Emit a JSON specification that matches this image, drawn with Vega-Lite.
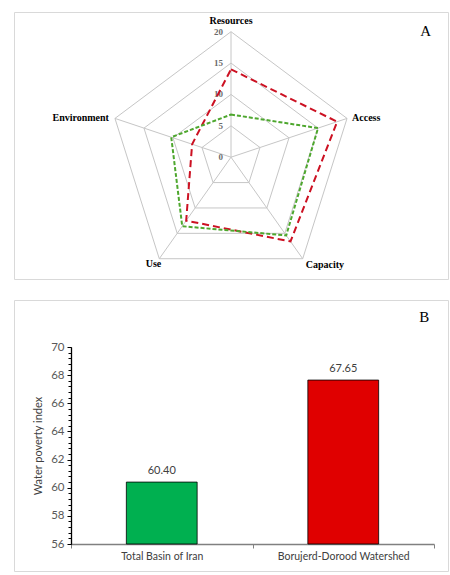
{
  "$schema": "https://vega.github.io/schema/vega-lite/v6.json",
  "background": "white",
  "padding": {"left": 13, "top": 11, "right": 0, "bottom": 0},
  "spacing": 19,
  "config": {"view": {"stroke": "#d9d9d9", "strokeWidth": 1}},
  "resolve": {"scale": {"color": "independent", "strokeDash": "independent"}},
  "datasets": {
    "components": [
      {"component": "Resources"},
      {"component": "Access"},
      {"component": "Capacity"},
      {"component": "Use"},
      {"component": "Environment"}
    ],
    "rings": [
      {"level": 5, "component": ["Resources", "Access", "Capacity", "Use", "Environment"]},
      {"level": 10, "component": ["Resources", "Access", "Capacity", "Use", "Environment"]},
      {"level": 15, "component": ["Resources", "Access", "Capacity", "Use", "Environment"]},
      {"level": 20, "component": ["Resources", "Access", "Capacity", "Use", "Environment"]}
    ],
    "levels": [{"level": 0}, {"level": 5}, {"level": 10}, {"level": 15}, {"level": 20}],
    "panels": [{"panel": "A"}, {"panel": "B"}],
    "scores": [
      {"region": "Borujerd-Dorood Watershed", "component": "Resources", "value": 14.0},
      {"region": "Borujerd-Dorood Watershed", "component": "Access", "value": 18.3},
      {"region": "Borujerd-Dorood Watershed", "component": "Capacity", "value": 16.6},
      {"region": "Borujerd-Dorood Watershed", "component": "Use", "value": 12.5},
      {"region": "Borujerd-Dorood Watershed", "component": "Environment", "value": 6.7},
      {"region": "Total Basin of Iran", "component": "Resources", "value": 6.8},
      {"region": "Total Basin of Iran", "component": "Access", "value": 15.0},
      {"region": "Total Basin of Iran", "component": "Capacity", "value": 15.4},
      {"region": "Total Basin of Iran", "component": "Use", "value": 13.6},
      {"region": "Total Basin of Iran", "component": "Environment", "value": 10.3}
    ],
    "wpi": [
      {"region": "Total Basin of Iran", "wpi": 60.40},
      {"region": "Borujerd-Dorood Watershed", "wpi": 67.65}
    ]
  },
  "vconcat": [
    {
      "width": 434,
      "height": 267,
      "layer": [
        {
          "data": {"name": "rings"},
          "transform": [
            {"flatten": ["component"]},
            {"calculate": "indexof(['Resources','Access','Capacity','Use','Environment'], datum.component) * 2 * PI / 5", "as": "theta"},
            {"calculate": "datum.level * sin(datum.theta)", "as": "x"},
            {"calculate": "datum.level * cos(datum.theta)", "as": "y"}
          ],
          "mark": {"type": "line", "interpolate": "linear-closed", "stroke": "#c6c6c6", "strokeWidth": 1},
          "encoding": {
            "x": {"field": "x", "type": "quantitative", "scale": {"domain": [-35.57, 35.57], "nice": false, "zero": false}, "axis": null},
            "y": {"field": "y", "type": "quantitative", "scale": {"domain": [-19.41, 23.14], "nice": false, "zero": false}, "axis": null},
            "detail": {"field": "level", "type": "nominal"},
            "order": {"field": "theta", "type": "quantitative"}
          }
        },
        {
          "data": {"name": "components"},
          "transform": [
            {"calculate": "indexof(['Resources','Access','Capacity','Use','Environment'], datum.component) * 2 * PI / 5", "as": "theta"},
            {"calculate": "20 * sin(datum.theta)", "as": "x"},
            {"calculate": "20 * cos(datum.theta)", "as": "y"}
          ],
          "mark": {"type": "rule", "stroke": "#c6c6c6", "strokeWidth": 1},
          "encoding": {
            "x": {"field": "x", "type": "quantitative"},
            "y": {"field": "y", "type": "quantitative"},
            "x2": {"datum": 0},
            "y2": {"datum": 0}
          }
        },
        {
          "data": {"name": "levels"},
          "transform": [{"calculate": "0", "as": "x"}],
          "mark": {"type": "text", "align": "right", "baseline": "middle", "dx": -8, "font": "Liberation Serif", "fontSize": 9, "fontWeight": "bold", "color": "#6b6b6b"},
          "encoding": {
            "x": {"field": "x", "type": "quantitative"},
            "y": {"field": "level", "type": "quantitative"},
            "text": {"field": "level", "type": "quantitative"}
          }
        },
        {
          "data": {"name": "scores"},
          "transform": [
            {"calculate": "indexof(['Resources','Access','Capacity','Use','Environment'], datum.component) * 2 * PI / 5", "as": "theta"},
            {"calculate": "datum.value * sin(datum.theta)", "as": "x"},
            {"calculate": "datum.value * cos(datum.theta)", "as": "y"}
          ],
          "mark": {"type": "line", "interpolate": "linear-closed", "strokeWidth": 2},
          "encoding": {
            "x": {"field": "x", "type": "quantitative"},
            "y": {"field": "y", "type": "quantitative"},
            "color": {"field": "region", "type": "nominal", "scale": {"domain": ["Borujerd-Dorood Watershed", "Total Basin of Iran"], "range": ["#cc1122", "#4ea72e"]}, "legend": null},
            "strokeDash": {"field": "region", "type": "nominal", "scale": {"domain": ["Borujerd-Dorood Watershed", "Total Basin of Iran"], "range": [[7, 4], [4, 2]]}, "legend": null},
            "order": {"field": "theta", "type": "quantitative"}
          }
        },
        {
          "data": {"name": "components"},
          "transform": [
            {"filter": "datum.component === 'Resources'"},
            {"calculate": "0", "as": "x"},
            {"calculate": "20", "as": "y"}
          ],
          "mark": {"type": "text", "align": "center", "baseline": "middle", "dy": -11, "font": "Liberation Serif", "fontSize": 10, "fontWeight": "bold", "color": "#000000"},
          "encoding": {
            "x": {"field": "x", "type": "quantitative"},
            "y": {"field": "y", "type": "quantitative"},
            "text": {"field": "component"}
          }
        },
        {
          "data": {"name": "components"},
          "transform": [
            {"filter": "datum.component === 'Access'"},
            {"calculate": "20 * sin(2 * PI / 5)", "as": "x"},
            {"calculate": "20 * cos(2 * PI / 5)", "as": "y"}
          ],
          "mark": {"type": "text", "align": "left", "baseline": "middle", "dx": 5, "font": "Liberation Serif", "fontSize": 10, "fontWeight": "bold", "color": "#000000"},
          "encoding": {
            "x": {"field": "x", "type": "quantitative"},
            "y": {"field": "y", "type": "quantitative"},
            "text": {"field": "component"}
          }
        },
        {
          "data": {"name": "components"},
          "transform": [
            {"filter": "datum.component === 'Capacity'"},
            {"calculate": "20 * sin(4 * PI / 5)", "as": "x"},
            {"calculate": "20 * cos(4 * PI / 5)", "as": "y"}
          ],
          "mark": {"type": "text", "align": "left", "baseline": "middle", "dx": 3, "dy": 6, "font": "Liberation Serif", "fontSize": 10, "fontWeight": "bold", "color": "#000000"},
          "encoding": {
            "x": {"field": "x", "type": "quantitative"},
            "y": {"field": "y", "type": "quantitative"},
            "text": {"field": "component"}
          }
        },
        {
          "data": {"name": "components"},
          "transform": [
            {"filter": "datum.component === 'Use'"},
            {"calculate": "20 * sin(6 * PI / 5)", "as": "x"},
            {"calculate": "20 * cos(6 * PI / 5)", "as": "y"}
          ],
          "mark": {"type": "text", "align": "right", "baseline": "middle", "dx": 2, "dy": 5, "font": "Liberation Serif", "fontSize": 10, "fontWeight": "bold", "color": "#000000"},
          "encoding": {
            "x": {"field": "x", "type": "quantitative"},
            "y": {"field": "y", "type": "quantitative"},
            "text": {"field": "component"}
          }
        },
        {
          "data": {"name": "components"},
          "transform": [
            {"filter": "datum.component === 'Environment'"},
            {"calculate": "20 * sin(8 * PI / 5)", "as": "x"},
            {"calculate": "20 * cos(8 * PI / 5)", "as": "y"}
          ],
          "mark": {"type": "text", "align": "right", "baseline": "middle", "dx": -6, "font": "Liberation Serif", "fontSize": 10, "fontWeight": "bold", "color": "#000000"},
          "encoding": {
            "x": {"field": "x", "type": "quantitative"},
            "y": {"field": "y", "type": "quantitative"},
            "text": {"field": "component"}
          }
        },
        {
          "data": {"name": "panels"},
          "transform": [{"filter": "datum.panel === 'A'"}],
          "mark": {"type": "text", "align": "center", "baseline": "middle", "font": "Liberation Serif", "fontSize": 15, "color": "#000000"},
          "encoding": {
            "x": {"datum": 31.9, "type": "quantitative"},
            "y": {"datum": 20.1, "type": "quantitative"},
            "text": {"field": "panel"}
          }
        }
      ]
    },
    {
      "width": 434,
      "height": 271,
      "encoding": {
        "x": {
          "field": "region", "type": "nominal", "sort": null,
          "scale": {"domain": ["Total Basin of Iran", "Borujerd-Dorood Watershed"], "range": [57, 420], "paddingInner": 0, "paddingOuter": 0},
          "axis": {"title": null, "orient": "bottom", "offset": -27, "labelAngle": 0, "tickBand": "extent", "domainColor": "#808080", "domainWidth": 1.5, "tickColor": "#808080", "tickSize": 4, "labelFont": "Lato", "labelFontSize": 10.5, "labelColor": "#404040", "labelPadding": 3}
        }
      },
      "layer": [
        {
          "data": {"name": "wpi"},
          "mark": {"type": "bar", "width": {"band": 0.39}, "stroke": "#000000", "strokeWidth": 0.8},
          "encoding": {
            "y": {
              "field": "wpi", "type": "quantitative",
              "scale": {"domain": [56, 70], "range": [244, 47], "nice": false, "zero": false},
              "axis": {"orient": "left", "offset": -57, "values": [56, 58, 60, 62, 64, 66, 68, 70], "grid": false, "title": "Water poverty index", "titleFont": "Lato", "titleFontSize": 11, "titleFontWeight": "normal", "titleColor": "#404040", "titlePadding": 7, "labelFont": "Lato", "labelFontSize": 11.5, "labelColor": "#595959", "labelPadding": 3, "tickSize": 4, "tickColor": "#000000", "domainColor": "#000000", "domainWidth": 1.3}
            },
            "y2": {"datum": 56},
            "color": {"field": "region", "type": "nominal", "scale": {"domain": ["Total Basin of Iran", "Borujerd-Dorood Watershed"], "range": ["#00b050", "#e00000"]}, "legend": null}
          }
        },
        {
          "data": {"name": "wpi"},
          "mark": {"type": "text", "baseline": "bottom", "dy": -6, "font": "Lato", "fontSize": 11, "color": "#404040"},
          "encoding": {
            "y": {
              "field": "wpi", "type": "quantitative",
              "axis": {"orient": "left", "offset": -57, "values": [56, 56.4, 56.8, 57.2, 57.6, 58, 58.4, 58.8, 59.2, 59.6, 60, 60.4, 60.8, 61.2, 61.6, 62, 62.4, 62.8, 63.2, 63.6, 64, 64.4, 64.8, 65.2, 65.6, 66, 66.4, 66.8, 67.2, 67.6, 68, 68.4, 68.8, 69.2, 69.6, 70], "labels": false, "domain": false, "grid": false, "title": null, "tickSize": 3, "tickColor": "#000000"}
            },
            "text": {"field": "wpi", "type": "quantitative", "format": ".2f"}
          }
        },
        {
          "data": {"name": "panels"},
          "transform": [{"filter": "datum.panel === 'B'"}],
          "mark": {"type": "text", "align": "center", "baseline": "middle", "dx": 81, "font": "Liberation Serif", "fontSize": 15, "color": "#000000"},
          "encoding": {
            "x": {"datum": "Borujerd-Dorood Watershed"},
            "y": {"datum": 72.13, "type": "quantitative", "axis": null},
            "text": {"field": "panel"}
          }
        }
      ],
      "resolve": {"axis": {"y": "independent"}}
    }
  ]
}
